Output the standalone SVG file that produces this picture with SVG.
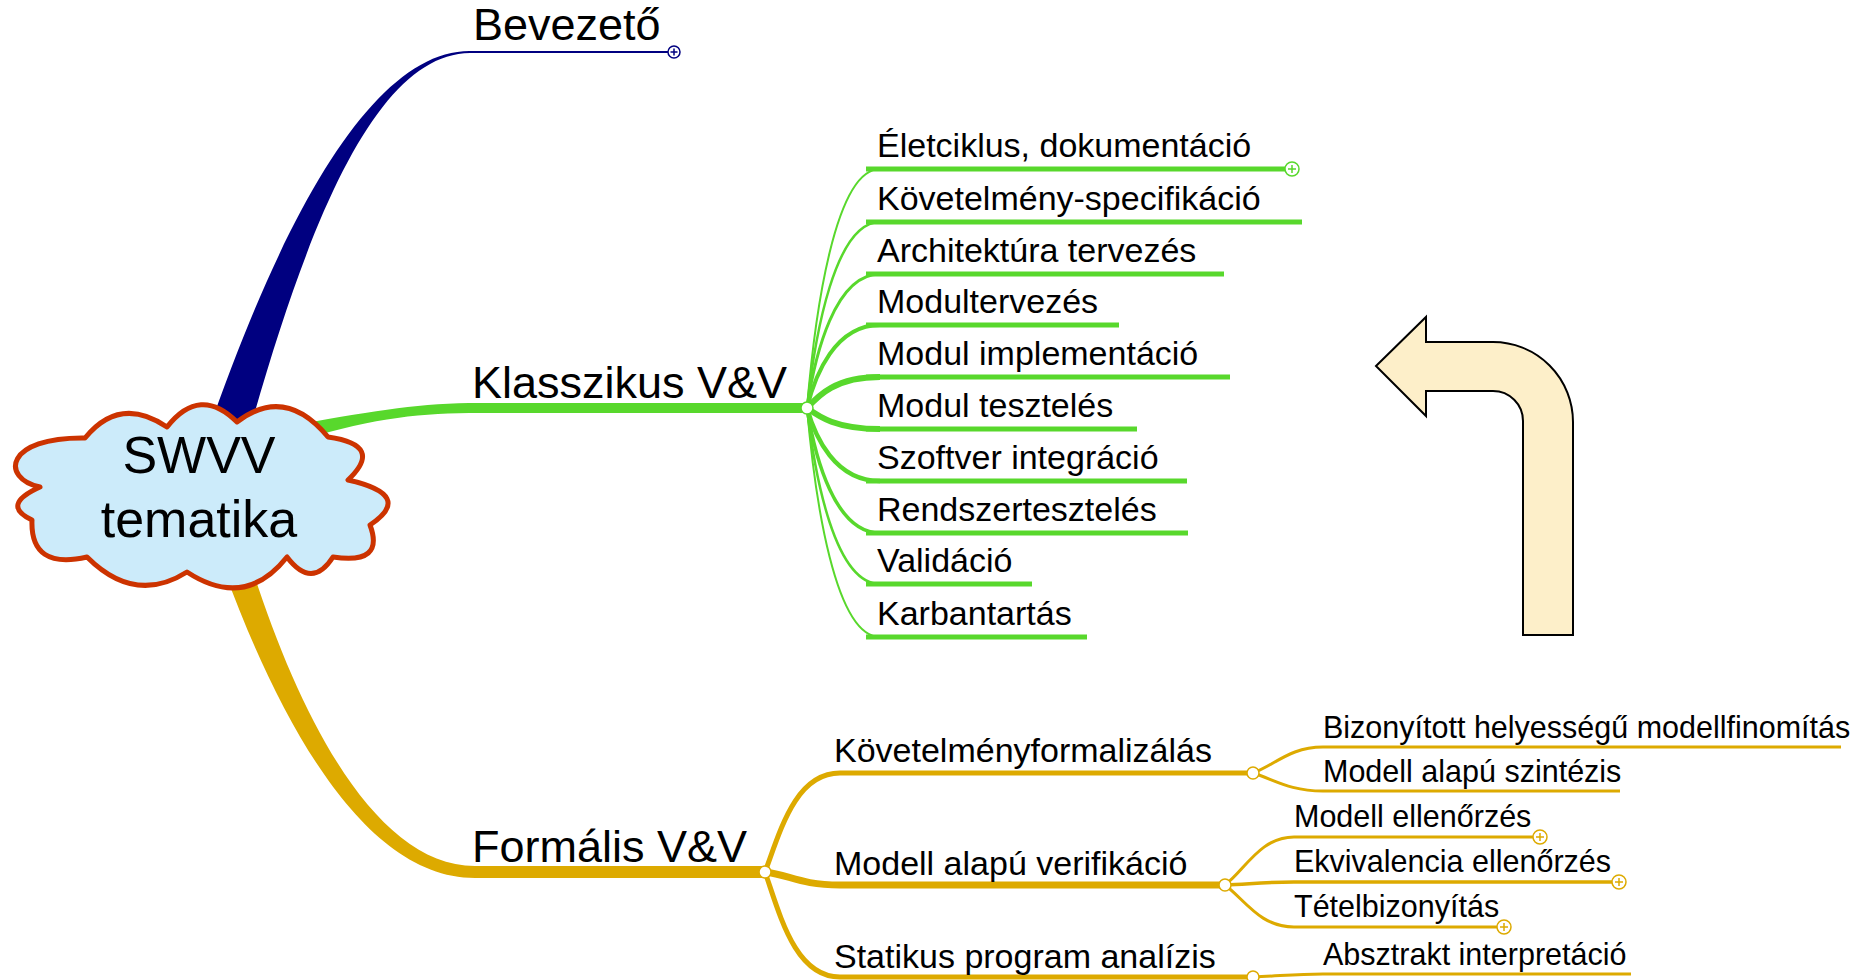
<svg xmlns="http://www.w3.org/2000/svg" width="1866" height="980" viewBox="0 0 1866 980">
<style>
  text { font-family: "Liberation Sans", Arial, sans-serif; fill: #000; }
  .main { font-size: 45px; }
  .root { font-size: 52px; text-anchor: middle; }
  .sub { font-size: 34px; }
  .leaf { font-size: 30.5px; }
  .g { stroke: #58D82C; fill: none; }
  .y { stroke: #DDAA00; fill: none; }
  .b { stroke: #000080; fill: none; }
  .gf { fill: #58D82C; }
  .yf { fill: #DDAA00; }
  .bf { fill: #000080; }
  .hubG { fill: #fff; stroke: #58D82C; stroke-width: 1.5; }
  .hubY { fill: #fff; stroke: #DDAA00; stroke-width: 1.5; }
  .plusG { fill: #fff; stroke: #58D82C; stroke-width: 1.5; }
  .plusY { fill: #fff; stroke: #DDAA00; stroke-width: 1.5; }
  .plusB { fill: #fff; stroke: #000080; stroke-width: 1.5; }
</style>
<rect width="1866" height="980" fill="#fff"/>

<g id="connectors">
  <!-- main branches -->
  <path class="bf" d="M207 435 C288 200 378 50.5 470 51 L470 53 C381 54 312 205 247 440 Z"/>
  <path class="b" stroke-width="2" d="M468 52 H668"/>
  <path class="gf" d="M300 424 C380 410 420 403 480 403 L807 403 L807 413 L480 413 C420 413 380 417 300 440 Z"/>
  <path class="yf" d="M224 570 C281 725 365 878 475 878 L765 878 L765 866 L475 866 C375 866 298 715 250 562 Z"/>

  <!-- Klasszikus children -->
  <path class="g" stroke-width="2" d="M807 408 C815 312 835 169 880 169"/>
  <path class="g" stroke-width="5" d="M866 169 H1285"/>
  <path class="g" stroke-width="2.5" d="M807 408 C815 334 835 222 880 222"/>
  <path class="g" stroke-width="5" d="M866 222 H1302"/>
  <path class="g" stroke-width="3" d="M807 408 C815 354 835 274 880 274"/>
  <path class="g" stroke-width="5" d="M866 274 H1224"/>
  <path class="g" stroke-width="4" d="M807 408 C815 375 835 325 880 325"/>
  <path class="g" stroke-width="5" d="M866 325 H1119"/>
  <path class="g" stroke-width="6" d="M807 408 C818 396 835 377 880 377"/>
  <path class="g" stroke-width="5" d="M866 377 H1230"/>
  <path class="g" stroke-width="6" d="M807 408 C818 416 835 429 880 429"/>
  <path class="g" stroke-width="5" d="M866 429 H1137"/>
  <path class="g" stroke-width="4.5" d="M807 408 C815 437 835 481 880 481"/>
  <path class="g" stroke-width="5" d="M866 481 H1187"/>
  <path class="g" stroke-width="3.5" d="M807 408 C815 458 835 533 880 533"/>
  <path class="g" stroke-width="5" d="M866 533 H1188"/>
  <path class="g" stroke-width="2.5" d="M807 408 C815 478 835 584 880 584"/>
  <path class="g" stroke-width="5" d="M866 584 H1032"/>
  <path class="g" stroke-width="2" d="M807 408 C815 500 835 637 880 637"/>
  <path class="g" stroke-width="5" d="M866 637 H1087"/>

  <!-- Formális children -->
  <path class="y" stroke-width="5" d="M765 872 C780 832 795 773 840 773 L1253 773"/>
  <path class="y" stroke-width="7" d="M765 872 C790 875 800 885 840 885 L1225 885"/>
  <path class="y" stroke-width="5" d="M765 872 C780 915 795 977 840 977 L1253 977"/>

  <!-- grandchildren -->
  <path class="y" stroke-width="3" d="M1253 773 C1275 765 1290 747 1323 747 L1841 747"/>
  <path class="y" stroke-width="3" d="M1253 773 C1275 780 1290 791 1323 791 L1620 791"/>
  <path class="y" stroke-width="3" d="M1225 885 C1245 870 1260 837 1294 837 L1533 837"/>
  <path class="y" stroke-width="3.5" d="M1225 885 C1250 884 1265 882 1294 882 L1612 882"/>
  <path class="y" stroke-width="3" d="M1225 885 C1245 900 1260 927 1294 927 L1497 927"/>
  <path class="y" stroke-width="3" d="M1253 977 C1280 976 1295 974 1323 974 L1631 974"/>
</g>

<g id="root">
  <path d="M85 438 Q120 395 167 427 Q200 385 237 422 Q285 385 328 437 Q385 445 348 480 Q415 495 370 525 Q385 565 333 557 Q312 590 287 557 Q245 610 187 572 Q135 605 87 557 Q30 570 32 520 Q0 505 40 487 C0 478 5 437 85 438 Z" fill="#CCEBFA" stroke="#CC3300" stroke-width="5" stroke-linejoin="round"/>
  <text class="root" x="199" y="473">SWVV</text>
  <text class="root" x="199" y="537">tematika</text>
</g>

<g id="bevezeto">
  <text class="main" x="473" y="40">Bevezető</text>
  <circle class="plusB" cx="674" cy="52" r="6"/>
  <path class="b" stroke-width="1.5" d="M670.5 52 H677.5 M674 48.5 V55.5"/>
</g>

<g id="klasszikus">
  <text class="main" x="472" y="398">Klasszikus V&amp;V</text>
  <circle class="hubG" cx="807" cy="408" r="6"/>
</g>

<g id="k1"><text class="sub" x="877" y="157">Életciklus, dokumentáció</text>
  <circle class="plusG" cx="1292" cy="169" r="7"/>
  <path class="g" stroke-width="1.5" d="M1288 169 H1296 M1292 165 V173"/></g>
<g id="k2"><text class="sub" x="877" y="210">Követelmény-specifikáció</text></g>
<g id="k3"><text class="sub" x="877" y="262">Architektúra tervezés</text></g>
<g id="k4"><text class="sub" x="877" y="313">Modultervezés</text></g>
<g id="k5"><text class="sub" x="877" y="365">Modul implementáció</text></g>
<g id="k6"><text class="sub" x="877" y="417">Modul tesztelés</text></g>
<g id="k7"><text class="sub" x="877" y="469">Szoftver integráció</text></g>
<g id="k8"><text class="sub" x="877" y="521">Rendszertesztelés</text></g>
<g id="k9"><text class="sub" x="877" y="572">Validáció</text></g>
<g id="k10"><text class="sub" x="877" y="625">Karbantartás</text></g>

<g id="formalis">
  <text class="main" x="472" y="862">Formális V&amp;V</text>
  <circle class="hubY" cx="765" cy="872" r="6"/>
</g>

<g id="f1"><text class="sub" x="834" y="762">Követelményformalizálás</text>
  <circle class="hubY" cx="1253" cy="773" r="6"/></g>
<g id="f2"><text class="sub" x="834" y="875">Modell alapú verifikáció</text>
  <circle class="hubY" cx="1225" cy="885" r="6"/></g>
<g id="f3"><text class="sub" x="834" y="968">Statikus program analízis</text>
  <circle class="hubY" cx="1253" cy="977" r="6"/></g>

<g id="f1a"><text class="leaf" x="1323" y="738">Bizonyított helyességű modellfinomítás</text></g>
<g id="f1b"><text class="leaf" x="1323" y="782">Modell alapú szintézis</text></g>
<g id="f2a"><text class="leaf" x="1294" y="827">Modell ellenőrzés</text>
  <circle class="plusY" cx="1540" cy="837" r="7"/>
  <path class="y" stroke-width="1.5" d="M1536 837 H1544 M1540 833 V841"/></g>
<g id="f2b"><text class="leaf" x="1294" y="872">Ekvivalencia ellenőrzés</text>
  <circle class="plusY" cx="1619" cy="882" r="7"/>
  <path class="y" stroke-width="1.5" d="M1615 882 H1623 M1619 878 V886"/></g>
<g id="f2c"><text class="leaf" x="1294" y="917">Tételbizonyítás</text>
  <circle class="plusY" cx="1504" cy="927" r="7"/>
  <path class="y" stroke-width="1.5" d="M1500 927 H1508 M1504 923 V931"/></g>
<g id="f3a"><text class="leaf" x="1323" y="965">Absztrakt interpretáció</text></g>

<g id="arrow">
  <path d="M1376 366 L1426 317 L1426 342 L1493 342 A80 80 0 0 1 1573 422 L1573 635 L1523 635 L1523 421 A30 30 0 0 0 1493 391 L1426 391 L1426 416 Z" fill="#FDEFC9" stroke="#000" stroke-width="2" stroke-linejoin="miter"/>
</g>
</svg>
